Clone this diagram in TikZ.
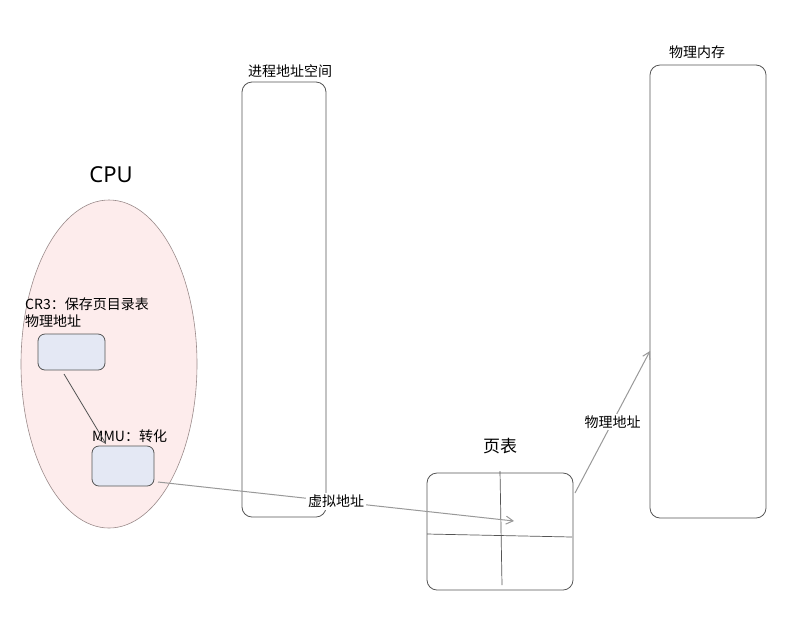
\documentclass[tikz,border=0pt]{standalone}
\usepackage{fontspec}
\setmainfont{Noto Sans CJK SC}
\newfontfamily\latinfont{Noto Sans}
\usetikzlibrary{arrows.meta,shapes.geometric}
\definecolor{strokegray}{HTML}{555555}
\definecolor{cpufill}{HTML}{FDECEC}
\definecolor{cpuline}{HTML}{9A8A8A}
\definecolor{regfill}{HTML}{E4E8F4}
\definecolor{arrgray}{HTML}{999999}
\tikzset{
  box/.style={draw=strokegray, line width=0.8pt, rounded corners=10pt},
  reg/.style={draw=strokegray, line width=0.8pt, fill=regfill, rounded corners=7pt},
  lbl/.style={font=\fontsize{14}{17}\selectfont, inner sep=1pt},
  conn/.style={draw=arrgray, line width=1pt, -{Straight Barb[length=7pt,width=8pt]}},
  darkconn/.style={draw=strokegray, line width=0.8pt, -{Straight Barb[length=7pt,width=8pt]}},
  midlbl/.style={font=\fontsize{14}{16}\selectfont, fill=white, inner sep=2pt},
}
\begin{document}
\begin{tikzpicture}[x=1pt,y=-1pt]
\useasboundingbox (0,0) rectangle (791,630);
\fill[white] (0,0) rectangle (791,630);

% CPU
\node[font=\latinfont\fontsize{22}{24}\selectfont] (cpulbl) at (111,175) {CPU};
\node[ellipse, draw=cpuline, fill=cpufill, line width=0.6pt, minimum width=176pt, minimum height=328pt, inner sep=0pt] (cpu) at (109,364) {};

% CR3 register
\node[lbl, anchor=west, align=left] (cr3lbl) at (24,313) {CR3：保存页目录表\\物理地址};
\draw[reg] (38,334) rectangle (105,370);
\coordinate (cr3bot) at (64,374);

% MMU
\node[lbl, anchor=west] (mmulbl) at (91,436) {MMU：转化};
\draw[reg] (92,446) rectangle (154,486);
\coordinate (mmuright) at (158,482);
\coordinate (mmuarr) at (106,444);

% process address space
\node[lbl] (vaslbl) at (290,71) {进程地址空间};
\draw[box] (242,82) rectangle (326,517);

% page table
\node[font=\fontsize{17}{19}\selectfont] (ptlbl) at (500,446) {页表};
\draw[box] (427,473) rectangle (573,590);
\draw[strokegray, line width=0.7pt] (500,471) -- (502,585);
\draw[strokegray, line width=0.7pt] (427,534) -- (572,537);
\coordinate (ptin) at (514,521);
\coordinate (ptright) at (575,493);

% physical memory
\node[lbl] (pmlbl) at (697,52) {物理内存};
\draw[box] (650,65) rectangle (766,518);
\coordinate (pmin) at (650,351);

% connectors
\draw[darkconn] (cr3bot) -- (mmuarr);
\draw[conn] (mmuright) -- node[midlbl, pos=0.5] {虚拟地址} (ptin);
\draw[conn] (ptright) -- node[midlbl, pos=0.5] {物理地址} (pmin);
\end{tikzpicture}
\end{document}
